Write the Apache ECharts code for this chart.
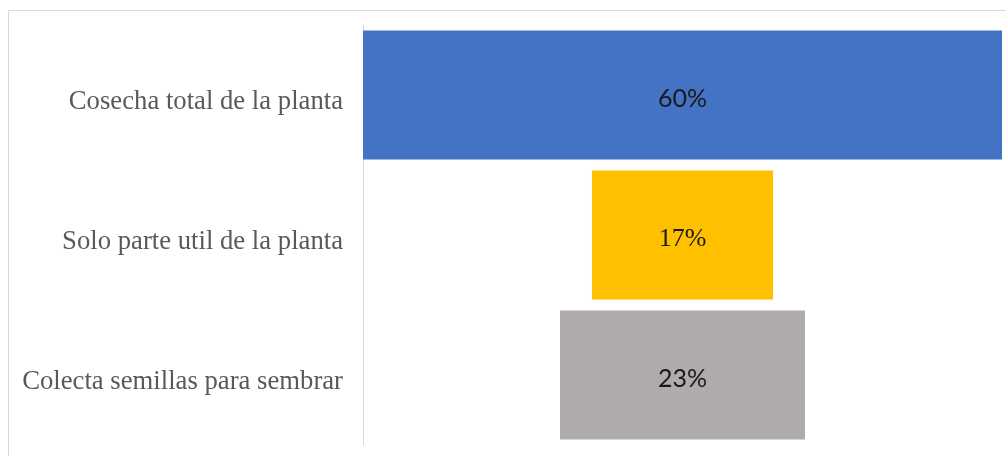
<!DOCTYPE html>
<html>
<head>
<meta charset="utf-8">
<script src="https://cdn.jsdelivr.net/npm/echarts@6/dist/echarts.min.js"></script>
<style>
  html, body { margin: 0; padding: 0; background: #ffffff; }
  #chart { width: 1006px; height: 456px; }
</style>
</head>
<body>
<div id="chart"></div>
<script>
// Stages of the funnel, top to bottom
const categories = [
  'Cosecha total de la planta',
  'Solo parte util de la planta',
  'Colecta semillas para sembrar'
];
// Share of each stage, in percent
const shares = [60, 17, 23];
const barColors = ['#4472C4', '#FFC000', '#AFABAB'];
// Per-bar label font (the middle label uses a serif face)
const labelFonts = ['Lato', 'Liberation Serif', 'Lato'];
const axisMax = 60;

// Invisible spacer that centres each bar on the axis
const spacer = shares.map(v => (axisMax - v) / 2);

const chart = echarts.init(document.getElementById('chart'));
chart.setOption({
  animation: false,
  grid: { left: 363, right: 4, top: 25, bottom: 11, containLabel: false },
  xAxis: {
    type: 'value', min: 0, max: axisMax, show: false
  },
  yAxis: {
    type: 'category',
    inverse: true,
    data: categories,
    axisLine: { show: true, lineStyle: { color: '#d9d9d9', width: 1 } },
    axisTick: { show: false },
    axisLabel: {
      margin: 20,
      formatter: v => '{t|' + v + '}',
      rich: {
        t: {
          color: '#595959',
          fontFamily: 'Liberation Serif',
          fontSize: 26.7,
          padding: [13, 0, 0, 0]
        }
      }
    }
  },
  series: [
    {
      type: 'bar',
      stack: 'funnel',
      silent: true,
      barWidth: 129,
      itemStyle: { color: 'transparent' },
      data: spacer
    },
    {
      type: 'bar',
      stack: 'funnel',
      barWidth: 129,
      label: {
        show: true,
        position: 'inside',
        formatter: '{c}%',
        color: '#1a1a1a',
        fontSize: 25,
        offset: [0, 4]
      },
      data: shares.map((v, i) => ({
        value: v,
        itemStyle: { color: barColors[i] },
        label: { fontFamily: labelFonts[i], fontSize: i === 1 ? 26 : 25 }
      }))
    }
  ],
  graphic: [
    {
      type: 'polyline',
      silent: true,
      shape: { points: [[8.5, 456], [8.5, 10.5], [1006, 10.5]] },
      style: { stroke: '#d9d9d9', lineWidth: 1, fill: null }
    }
  ]
});
</script>
</body>
</html>
